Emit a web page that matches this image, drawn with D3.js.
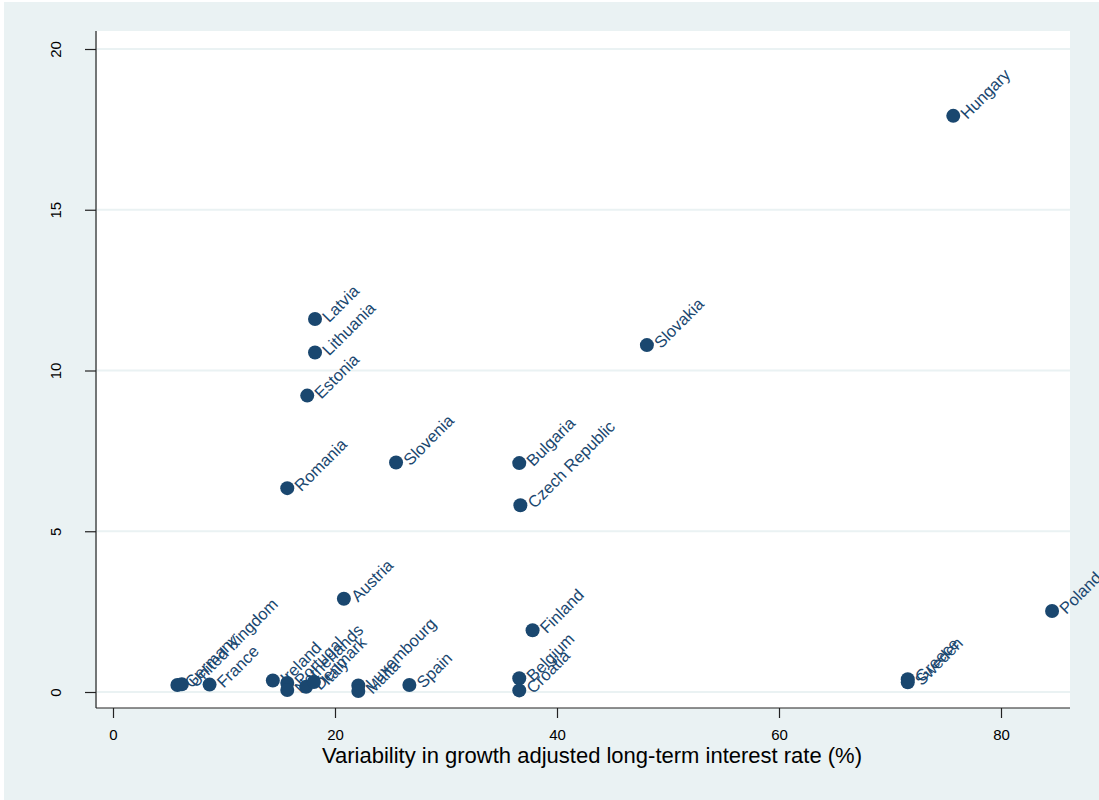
<!DOCTYPE html>
<html>
<head>
<meta charset="utf-8">
<script src="https://cdn.jsdelivr.net/npm/d3@7"></script>
<style>
  body { margin: 0; background: #fff; }
  svg text { font-family: "Liberation Sans", Arial, sans-serif; }
</style>
</head>
<body>
<svg class="scatter" width="1099" height="800"></svg>
<script>
/**********************
 Data
**********************/
var countries = ['Hungary', 'Latvia', 'Lithuania', 'Estonia', 'Slovakia', 'Slovenia',
  'Romania', 'Bulgaria', 'Czech Republic', 'Austria', 'Finland', 'Poland',
  'Germany', 'United Kingdom', 'France', 'Ireland', 'Portugal', 'Netherlands',
  'Denmark', 'Italy', 'Luxembourg', 'Malta', 'Spain', 'Belgium', 'Croatia',
  'Greece', 'Sweden'];
// variability in growth adjusted long-term interest rate (%)
var xVals = [75.7, 18.2, 18.2, 17.5, 48.1, 25.5,
  15.7, 36.6, 36.7, 20.8, 37.8, 84.6,
  5.8, 6.2, 8.7, 14.4, 15.7, 15.7,
  17.4, 18.1, 22.1, 22.1, 26.7, 36.6, 36.6,
  71.6, 71.6];
var yVals = [17.92, 11.6, 10.56, 9.22, 10.79, 7.14,
  6.34, 7.12, 5.81, 2.9, 1.92, 2.52,
  0.22, 0.24, 0.23, 0.36, 0.28, 0.06,
  0.16, 0.31, 0.2, 0.03, 0.22, 0.43, 0.05,
  0.4, 0.3];

var xTicks = [0, 20, 40, 60, 80];
var yTicks = [0, 5, 10, 15, 20];
var xTitle = 'Variability in growth adjusted long-term interest rate (%)';

var dataset = countries.map(function(c, i) {
  return {name: c, x: xVals[i], y: yVals[i]};
});

/**********************
 Layout
**********************/
var svg = d3.select('svg.scatter');
var svgWidth = +svg.attr('width');
var svgHeight = +svg.attr('height');

var navy = '#1a476f';
var bg = '#eaf2f3';

// plot region edges
var plot = {l: 97, r: 1070, t: 31, b: 708};

var xScale = d3.scaleLinear().domain([0, 80]).range([113, 1001]);
var yScale = d3.scaleLinear().domain([0, 20]).range([692, 49]);

// outer graph region
svg.append('rect')
  .attr('x', 4).attr('y', 2)
  .attr('width', svgWidth - 4).attr('height', svgHeight - 2)
  .attr('fill', bg);

svg.append('rect')
  .attr('x', plot.l).attr('y', plot.t)
  .attr('width', plot.r - plot.l).attr('height', plot.b - plot.t)
  .attr('fill', '#fff');

// gridlines
svg.append('g').selectAll('line')
  .data(yTicks)
  .enter().append('line')
  .attr('x1', plot.l).attr('x2', plot.r)
  .attr('y1', function(d) { return yScale(d); })
  .attr('y2', function(d) { return yScale(d); })
  .attr('stroke', bg)
  .attr('stroke-width', 2);

/**********************
 Axes
**********************/
var yAxisG = svg.append('g')
  .attr('transform', 'translate(' + (plot.l - 1) + ',0)')
  .call(d3.axisLeft(yScale).tickValues(yTicks).tickSize(11).tickSizeOuter(0));
yAxisG.select('.domain').attr('d', 'M0,' + plot.t + 'V' + plot.b);
// rotated tick labels, reading bottom to top
yAxisG.selectAll('.tick text')
  .attr('x', 0).attr('y', 0)
  .attr('dy', '0.35em')
  .attr('transform', 'translate(-40,0) rotate(-90)')
  .attr('text-anchor', 'middle')
  .attr('fill', '#000')
  .style('font-size', '15px');

var xAxisG = svg.append('g')
  .attr('transform', 'translate(0,' + plot.b + ')')
  .call(d3.axisBottom(xScale).tickValues(xTicks).tickSize(10).tickSizeOuter(0).tickPadding(11));
xAxisG.select('.domain').attr('d', 'M' + (plot.l - 1) + ',0H' + plot.r);
xAxisG.selectAll('text')
  .attr('fill', '#000')
  .style('font-size', '15px');

svg.selectAll('.domain, .tick line').attr('stroke', '#222').attr('stroke-width', 1.2);

svg.append('text')
  .attr('x', 592).attr('y', 763)
  .attr('text-anchor', 'middle')
  .style('font-size', '22px')
  .attr('fill', '#000')
  .text(xTitle);

/**********************
 Points and labels
**********************/
var dots = svg.append('g').selectAll('.dot')
  .data(dataset)
  .enter().append('g')
  .attr('class', 'dot')
  .attr('transform', function(d) {
    return 'translate(' + [xScale(d.x), yScale(d.y)] + ')';
  });

dots.append('circle')
  .attr('r', 7)
  .attr('fill', navy);

dots.append('text')
  .attr('transform', 'translate(10,0) rotate(-45)')
  .attr('dy', '0.35em')
  .attr('fill', navy)
  .style('font-size', '16.5px')
  .text(function(d) { return d.name; });
</script>
</body>
</html>
